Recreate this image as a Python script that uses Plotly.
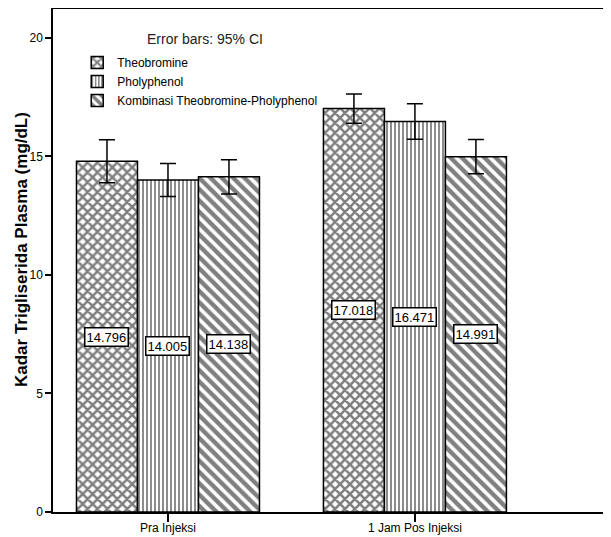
import plotly.graph_objects as go

# Data
categories = ["Pra Injeksi", "1 Jam Pos Injeksi"]
series_names = ["Theobromine", "Pholyphenol", "Kombinasi Theobromine-Pholyphenol"]
theobromine = [14.796, 17.018]
pholyphenol = [14.005, 16.471]
kombinasi = [14.138, 14.991]
theobromine_ci = [0.91, 0.62]
pholyphenol_ci = [0.70, 0.75]
kombinasi_ci = [0.72, 0.72]

values = [theobromine, pholyphenol, kombinasi]
cis = [theobromine_ci, pholyphenol_ci, kombinasi_ci]
patterns = [dict(shape="x", size=7, solidity=0.6),
            dict(shape="|", size=4, solidity=0.45),
            dict(shape="\\", size=8, solidity=0.55)]

FONT = "Liberation Sans, Arial, sans-serif"
bargap = 0.259
bar_w = (1 - bargap) / 3

# page body adds an 8px offset, so the figure is sized to the visible area
W, H = 603, 529
ML, MT, MB = 45, 1, 25
PH = H - MT - MB
PW = W - ML

fig = go.Figure()

for k, name in enumerate(series_names):
    fig.add_trace(go.Bar(
        x=categories, y=values[k], name=name,
        marker=dict(color="white", line=dict(color="black", width=1.5),
                    pattern=dict(fgcolor="black", bgcolor="white", **patterns[k])),
        error_y=dict(type="data", array=cis[k], color="black", thickness=1.5, width=8),
    ))
    # value labels at half height, boxed
    for i, v in enumerate(values[k]):
        fig.add_annotation(
            x=i + (k - 1) * bar_w, y=v / 2, xref="x", yref="y",
            text=f"{v:.3f}", showarrow=False,
            font=dict(family=FONT, size=13, color="black"),
            bgcolor="white", bordercolor="black", borderwidth=1.5, borderpad=1,
        )

fig.add_annotation(
    x=152 / PW, y=1 - 30 / PH, xref="paper", yref="paper",
    xanchor="center", yanchor="middle",
    text="Error bars: 95% CI", showarrow=False,
    font=dict(family=FONT, size=14, color="#222"),
)
# y-axis title
fig.add_annotation(
    x=-32 / PW, y=262 / PH, xref="paper", yref="paper",
    xanchor="center", yanchor="middle", textangle=-90,
    text="<b>Kadar Trigliserida Plasma (mg/dL)</b>", showarrow=False,
    font=dict(family=FONT, size=17, color="black"),
)

fig.update_layout(
    width=W, height=H,
    margin=dict(l=ML, r=0, t=MT, b=MB, autoexpand=False),
    paper_bgcolor="white", plot_bgcolor="white",
    barmode="group", bargap=bargap, bargroupgap=0,
    font=dict(family=FONT, size=12, color="black"),
    legend=dict(x=0.0434, y=1 - 39 / PH, xanchor="left", yanchor="top",
                bgcolor="rgba(0,0,0,0)", font=dict(family=FONT, size=12)),
    showlegend=True,
)
fig.update_xaxes(
    range=[-0.4656, 1.794], showline=True, linecolor="black", linewidth=1.5,
    mirror=True, ticks="outside", ticklen=8, tickwidth=1.5, tickcolor="black",
    showgrid=False, tickfont=dict(size=12), automargin=False,
    ticklabelstandoff=-4,
)
fig.update_yaxes(
    range=[0, 21.22], showline=True, linecolor="black", linewidth=1.5,
    ticks="outside", ticklen=6, tickwidth=1.5, tickcolor="black",
    tickvals=[0, 5, 10, 15, 20], showgrid=False, zeroline=False,
    tickfont=dict(size=12), automargin=False,
)

fig.write_html("out.html")
